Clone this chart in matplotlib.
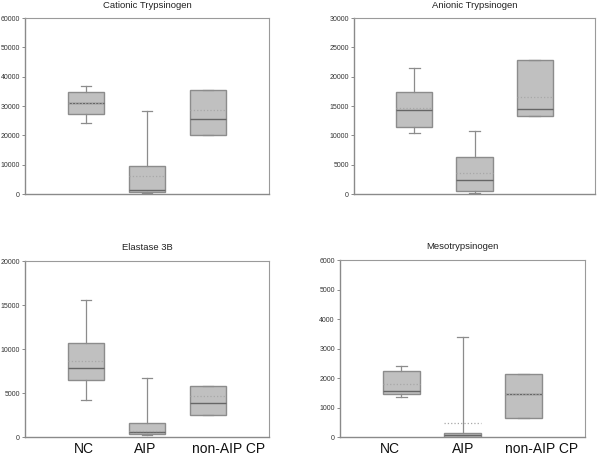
import matplotlib
matplotlib.use("Agg")
import matplotlib.pyplot as plt
from matplotlib.transforms import blended_transform_factory

plt.rcParams['font.family'] = ['Liberation Sans', 'DejaVu Sans']

categories = ["NC", "AIP", "non-AIP CP"]
titles = ["Cationic Trypsinogen", "Anionic Trypsinogen", "Elastase 3B", "Mesotrypsinogen"]
ymax = [60000, 30000, 20000, 6000]
ystep = [10000, 5000, 5000, 1000]

# per panel: [NC, AIP, non-AIP CP]; each stat list in category order
whislo = [[24150, 200, 20070], [10400, 200, 13240], [4180, 230, 2470], [1350, 0, 657]]
q1     = [[27200, 570, 20070], [11420, 460, 13240], [6490, 340, 2470], [1470, 0, 657]]
med    = [[30950, 1250, 25500], [14320, 2390, 14430], [7820, 530, 3870], [1560, 60, 1450]]
mean   = [[31100, 6120, 28640], [14600, 3640, 16530], [8620, 680, 4630], [1780, 464, 1450]]
q3     = [[34700, 9410, 35490], [17390, 6310, 22780], [10630, 1560, 5840], [2250, 125, 2150]]
whishi = [[36750, 28230, 35490], [21480, 10740, 22780], [15560, 6680, 5840], [2420, 3400, 2150]]

fig = plt.figure(figsize=(6.0, 4.61), dpi=100)
W, H = 600.0, 461.0
rects_px = [(25, 18, 269, 194), (354, 18, 595, 194), (25, 261, 269, 437), (340, 260, 585, 437)]

edge = "#8c8c8c"
for i, (x0, y0, x1, y1) in enumerate(rects_px):
    ax = fig.add_axes([x0 / W, 1 - y1 / H, (x1 - x0) / W, (y1 - y0) / H])
    stats = []
    for j, c in enumerate(categories):
        stats.append(dict(label=c, whislo=whislo[i][j], q1=q1[i][j], med=med[i][j],
                          mean=mean[i][j], q3=q3[i][j], whishi=whishi[i][j], fliers=[]))
    ax.bxp(stats, positions=[1, 2, 3], widths=0.6, capwidths=0.18, patch_artist=True,
           showmeans=True, meanline=True, showfliers=False,
           boxprops=dict(facecolor="#c0c0c0", edgecolor=edge, linewidth=1.0),
           medianprops=dict(color="#666666", linewidth=1.0),
           meanprops=dict(color="#a8a8a8", linestyle=":", linewidth=0.9),
           whiskerprops=dict(color=edge, linewidth=0.9),
           capprops=dict(color=edge, linewidth=0.9))
    ax.set_xlim(0, 4)
    ax.set_ylim(0, ymax[i])
    ax.set_yticks(range(0, ymax[i] + 1, ystep[i]))
    ax.set_xticks([])
    ax.tick_params(axis='y', labelsize=5, length=2.5, width=0.6, pad=1.2,
                   colors="#777777", labelcolor="#333333")
    for s in ["left", "bottom"]:
        ax.spines[s].set_color("#8a8a8a")
        ax.spines[s].set_linewidth(1.0)
    for s in ["top", "right"]:
        ax.spines[s].set_color("#9a9a9a")
        ax.spines[s].set_linewidth(0.8)
    ax.set_title(titles[i], fontsize=6.8, pad=7 if i < 2 else 8, color="#222222")

# category labels beneath bottom row
label_x = [[84, 145, 229], [390, 463, 542]]
for xs in label_x:
    for c, xp in zip(categories, xs):
        fig.text(xp / W, 1 - 449 / H, c, fontsize=10, ha="center", va="center", color="#111111")

fig.savefig("out.png", dpi=100)
